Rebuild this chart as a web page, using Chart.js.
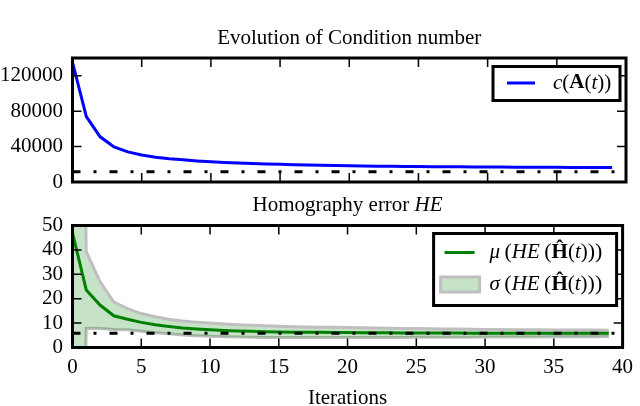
<!DOCTYPE html>
<html>
<head>
<meta charset="utf-8">
<script src="https://cdn.jsdelivr.net/npm/chart.js@4"></script>
<style>
  html, body { margin: 0; padding: 0; background: #fff; overflow: hidden; width: 640px; height: 406px; }
  #topWrap { position: absolute; left: 0; top: 0; width: 640px; height: 200px; }
  #bottomWrap { position: absolute; left: 0; top: 185px; width: 640px; height: 226px; }
</style>
</head>
<body>
<div id="topWrap"><canvas id="condChart" width="640" height="200"></canvas></div>
<div id="bottomWrap"><canvas id="heChart" width="640" height="226"></canvas></div>
<script>
// Data
const iterations = [0, 1, 2, 3, 4, 5, 6, 7, 8, 9, 10, 11, 12, 13, 14, 15, 16, 17, 18, 19,
                    20, 21, 22, 23, 24, 25, 26, 27, 28, 29, 30, 31, 32, 33, 34, 35, 36, 37, 38, 39];
const condNumber = [135000, 73800, 51000, 39500, 34000, 30500, 28000, 26300, 25000, 23800,
                    22900, 22100, 21400, 20800, 20300, 19900, 19500, 19100, 18800, 18500,
                    18250, 18050, 17850, 17700, 17550, 17400, 17300, 17200, 17100, 17000,
                    16900, 16800, 16750, 16700, 16600, 16550, 16500, 16450, 16400, 16300];
const condReference = 11500;

const heMean = [47, 23.6, 17.4, 13.0, 11.6, 10.3, 9.3, 8.6, 8.0, 7.6,
                7.3, 7.0, 6.8, 6.65, 6.5, 6.4, 6.3, 6.25, 6.2, 6.15,
                6.1, 6.05, 6.0, 6.0, 5.95, 5.95, 5.9, 5.9, 5.9, 5.85,
                5.85, 5.85, 5.8, 5.8, 5.8, 5.8, 5.8, 5.8, 5.8, 5.8];
const heStd = [350, 15.7, 9.6, 5.6, 4.3, 3.6, 3.3, 3.0, 2.9, 2.8,
               2.7, 2.6, 2.5, 2.45, 2.4, 2.3, 2.25, 2.2, 2.15, 2.1,
               2.05, 2.0, 1.95, 1.9, 1.85, 1.8, 1.75, 1.7, 1.65, 1.6,
               1.55, 1.5, 1.5, 1.45, 1.45, 1.4, 1.4, 1.35, 1.35, 1.3];
const heReference = 5.8;

const refSpan = [0, 40];
const condTicks = [0, 40000, 80000, 120000];
const heTicks = [0, 10, 20, 30, 40, 50];
const iterTicks = [0, 5, 10, 15, 20, 25, 30, 35, 40];

const SERIF = '"Liberation Serif", "DejaVu Serif", serif';
const FS = 21;
const LW = 3;
const BAND_FILL = 'rgba(0, 128, 0, 0.22)';
const BAND_EDGE = '#bfbfbf';
const DASH_DOT = [8, 13, 3, 13];

Chart.defaults.font.family = SERIF;
Chart.defaults.font.size = FS;
Chart.defaults.color = '#000';

function pts(xs, ys) {
    return xs.map((x, i) => ({ x: x, y: ys[i] }));
}

// inward ticks on all four sides + thick box, like the matplotlib classic style
const framePlugin = {
    id: 'frame',
    afterDatasetsDraw(chart) {
        const { ctx, chartArea: a, scales } = chart;
        ctx.save();
        ctx.strokeStyle = '#000';
        ctx.lineWidth = 1.5;
        ctx.beginPath();
        scales.x.ticks.forEach(t => {
            const px = scales.x.getPixelForValue(t.value);
            ctx.moveTo(px, a.top); ctx.lineTo(px, a.top + 9);
            ctx.moveTo(px, a.bottom); ctx.lineTo(px, a.bottom - 9);
        });
        scales.y.ticks.forEach(t => {
            const py = scales.y.getPixelForValue(t.value);
            ctx.moveTo(a.left, py); ctx.lineTo(a.left + 9, py);
            ctx.moveTo(a.right, py); ctx.lineTo(a.right - 9, py);
        });
        ctx.stroke();
        ctx.lineWidth = 3;
        ctx.strokeRect(a.left, a.top, a.right - a.left, a.bottom - a.top);
        ctx.restore();
    }
};

// write a formula made of pieces with different font styles
function mathWidth(ctx, parts) {
    let w = 0;
    parts.forEach(p => {
        ctx.font = (p[1] || '') + ' ' + (p[2] || FS) + 'px ' + SERIF;
        w += ctx.measureText(p[0]).width;
    });
    return w;
}
function drawMath(ctx, x, y, parts) {
    ctx.textBaseline = 'middle';
    ctx.textAlign = 'left';
    parts.forEach(p => {
        ctx.font = (p[1] || '') + ' ' + (p[2] || FS) + 'px ' + SERIF;
        ctx.fillText(p[0], x, y);
        x += ctx.measureText(p[0]).width;
    });
}

// subplot title centred over the plot area
const mathTitle = {
    id: 'mathTitle',
    afterDraw(chart, args, opts) {
        if (!opts.parts) return;
        const { ctx, chartArea: a } = chart;
        ctx.save();
        ctx.fillStyle = '#000';
        const w = mathWidth(ctx, opts.parts);
        drawMath(ctx, (a.left + a.right) / 2 - w / 2, opts.y, opts.parts);
        ctx.restore();
    }
};

const mathLegend = {
    id: 'mathLegend',
    afterDraw(chart, args, opts) {
        const { ctx, chartArea: a } = chart;
        const left = a.right - 6 - opts.width;
        const top = a.top + opts.top;
        ctx.save();
        ctx.fillStyle = '#fff';
        ctx.fillRect(left, top, opts.width, opts.height);
        ctx.strokeStyle = '#000';
        ctx.lineWidth = 3;
        ctx.strokeRect(left, top, opts.width, opts.height);
        opts.items.forEach(it => {
            const cy = top + it.dy;
            if (it.kind === 'line') {
                ctx.strokeStyle = it.color;
                ctx.lineWidth = LW;
                ctx.beginPath();
                ctx.moveTo(left + it.x0, cy);
                ctx.lineTo(left + it.x1, cy);
                ctx.stroke();
            } else {
                ctx.fillStyle = it.color;
                ctx.fillRect(left + it.x0, cy - 7.5, it.x1 - it.x0, 15);
                ctx.strokeStyle = it.edge;
                ctx.lineWidth = LW;
                ctx.strokeRect(left + it.x0, cy - 7.5, it.x1 - it.x0, 15);
            }
            ctx.fillStyle = '#000';
            drawMath(ctx, left + it.tx, cy, it.parts);
        });
        ctx.restore();
    }
};

const plainNumber = v => String(v);
// keep the plot box where it is: no extra room for half tick labels
const fixY = s => { s.width = 72.5; s.paddingTop = 0; s.paddingBottom = 0; };

// Top: condition number
new Chart(document.getElementById('condChart'), {
    type: 'line',
    data: {
        datasets: [
            { data: pts(iterations, condNumber), borderColor: '#0000ff', borderWidth: LW,
              pointRadius: 0, fill: false },
            { data: pts(refSpan, refSpan.map(() => condReference)), borderColor: '#000',
              borderWidth: LW, borderDash: DASH_DOT, pointRadius: 0, fill: false }
        ]
    },
    options: {
        responsive: false,
        animation: false,
        events: [],
        layout: { autoPadding: false, padding: { left: 0, right: 14, top: 58, bottom: 0 } },
        plugins: {
            legend: { display: false },
            tooltip: { enabled: false },
            title: { display: false },
            mathTitle: { y: 38, parts: [['Evolution of Condition number']] },
            mathLegend: {
                width: 127, height: 34, top: 8.5,
                items: [{
                    kind: 'line', color: '#0000ff', x0: 14, x1: 42, dy: 16.5, tx: 60,
                    parts: [['c', 'italic'], ['('], ['A', 'bold'], ['('], ['t', 'italic'], ['))']]
                }]
            }
        },
        scales: {
            x: {
                type: 'linear', min: 0, max: 40,
                ticks: { display: false, stepSize: 5 },
                afterBuildTicks: s => { s.ticks = iterTicks.map(v => ({ value: v })); },
                grid: { display: false, drawTicks: false },
                border: { display: false },
                afterFit: s => { s.height = 18; }
            },
            y: {
                type: 'linear', min: 0, max: 140000,
                ticks: { padding: 9.5, color: '#000', autoSkip: false, callback: plainNumber },
                afterBuildTicks: s => { s.ticks = condTicks.map(v => ({ value: v })); },
                grid: { display: false, drawTicks: false },
                border: { display: false },
                afterFit: fixY
            }
        }
    },
    plugins: [framePlugin, mathTitle, mathLegend]
});

// Bottom: homography error
new Chart(document.getElementById('heChart'), {
    type: 'line',
    data: {
        datasets: [
            { data: pts(refSpan, refSpan.map(() => heReference)), borderColor: '#000',
              borderWidth: LW, borderDash: DASH_DOT, pointRadius: 0, fill: false },
            { data: pts(iterations, heMean), borderColor: '#008000', borderWidth: LW,
              pointRadius: 0, fill: false },
            { data: pts(iterations, heMean.map((m, i) => m + heStd[i])), borderColor: BAND_EDGE,
              borderWidth: LW, pointRadius: 0, fill: '+1', backgroundColor: BAND_FILL },
            { data: pts(iterations, heMean.map((m, i) => m - heStd[i])), borderColor: BAND_EDGE,
              borderWidth: LW, pointRadius: 0, fill: false }
        ]
    },
    options: {
        responsive: false,
        animation: false,
        events: [],
        layout: { autoPadding: false, padding: { left: 0, right: 14, top: 40.5, bottom: 0 } },
        plugins: {
            legend: { display: false },
            tooltip: { enabled: false },
            title: { display: false },
            mathTitle: { y: 20, parts: [['Homography error '], ['HE', 'italic']] },
            mathLegend: {
                width: 183, height: 72, top: 8,
                items: [
                    { kind: 'line', color: '#008000', x0: 11, x1: 41, dy: 19, tx: 56,
                      parts: [['\u03bc', 'italic'], ['\u2009(', '', 22], ['HE', 'italic'], ['\u2009(', '', 22],
                              ['\u0124', 'bold'], ['('], ['t', 'italic'], [')'], ['))', '', 22]] },
                    { kind: 'patch', color: BAND_FILL, edge: BAND_EDGE, x0: 7, x1: 46, dy: 51, tx: 56,
                      parts: [['\u03c3', 'italic'], ['\u2009(', '', 22], ['HE', 'italic'], ['\u2009(', '', 22],
                              ['\u0124', 'bold'], ['('], ['t', 'italic'], [')'], ['))', '', 22]] }
                ]
            }
        },
        scales: {
            x: {
                type: 'linear', min: 0, max: 40,
                ticks: { stepSize: 5, padding: 6.9, color: '#000', maxRotation: 0, autoSkip: false },
                afterBuildTicks: s => { s.ticks = iterTicks.map(v => ({ value: v })); },
                title: { display: true, text: 'Iterations', color: '#000',
                         font: { size: FS }, padding: { top: 0, bottom: 0 } },
                grid: { display: false, drawTicks: false },
                border: { display: false },
                afterFit: s => { s.height = 63.5; }
            },
            y: {
                type: 'linear', min: 0, max: 50,
                ticks: { stepSize: 10, padding: 9.5, color: '#000', autoSkip: false, callback: plainNumber },
                afterBuildTicks: s => { s.ticks = heTicks.map(v => ({ value: v })); },
                grid: { display: false, drawTicks: false },
                border: { display: false },
                afterFit: fixY
            }
        }
    },
    plugins: [framePlugin, mathTitle, mathLegend]
});
</script>
</body>
</html>
